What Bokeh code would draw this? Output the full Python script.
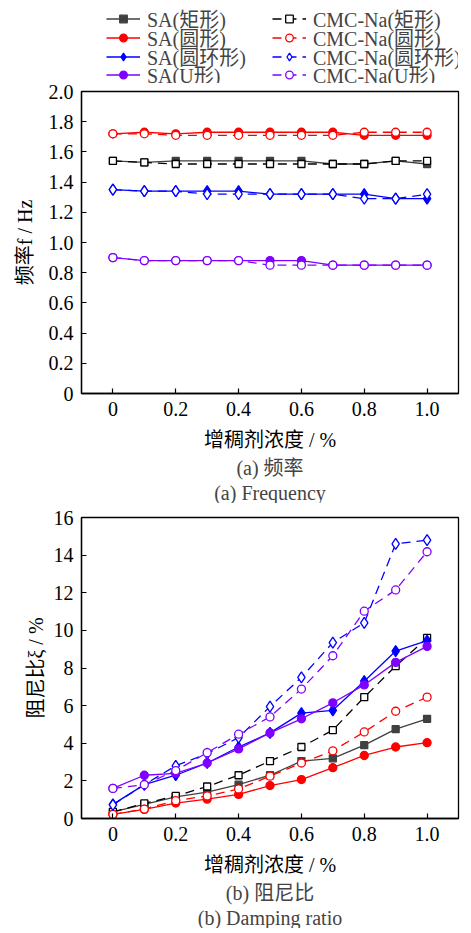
from bokeh.plotting import figure
from bokeh.layouts import column
from bokeh.models import Legend, LegendItem, FixedTicker, Title
from bokeh.embed import file_html
from bokeh.resources import INLINE

# ---------------- data ----------------
conc = [0.0, 0.1, 0.2, 0.3, 0.4, 0.5, 0.6, 0.7, 0.8, 0.9, 1.0]

# (a) frequency, Hz
freq_sa_rect = [1.54, 1.53, 1.54, 1.54, 1.54, 1.54, 1.54, 1.52, 1.52, 1.54, 1.52]
freq_cmc_rect = [1.54, 1.53, 1.52, 1.52, 1.52, 1.52, 1.52, 1.52, 1.52, 1.54, 1.54]
freq_sa_circ = [1.72, 1.73, 1.72, 1.73, 1.73, 1.73, 1.73, 1.73, 1.71, 1.71, 1.71]
freq_cmc_circ = [1.72, 1.72, 1.71, 1.71, 1.71, 1.71, 1.71, 1.71, 1.73, 1.73, 1.73]
freq_sa_ring = [1.35, 1.34, 1.34, 1.34, 1.34, 1.32, 1.32, 1.32, 1.32, 1.29, 1.29]
freq_cmc_ring = [1.35, 1.34, 1.34, 1.32, 1.32, 1.32, 1.32, 1.32, 1.29, 1.29, 1.32]
freq_sa_u = [0.90, 0.88, 0.88, 0.88, 0.88, 0.88, 0.88, 0.85, 0.85, 0.85, 0.85]
freq_cmc_u = [0.90, 0.88, 0.88, 0.88, 0.88, 0.85, 0.85, 0.85, 0.85, 0.85, 0.85]

# (b) damping ratio, %
damp_sa_rect = [0.35, 0.75, 1.15, 1.40, 1.80, 2.30, 3.05, 3.20, 3.90, 4.75, 5.30]
damp_cmc_rect = [0.35, 0.80, 1.20, 1.70, 2.30, 3.05, 3.80, 4.70, 6.45, 8.10, 9.60]
damp_sa_circ = [0.22, 0.48, 0.82, 1.03, 1.28, 1.75, 2.07, 2.70, 3.35, 3.80, 4.03]
damp_cmc_circ = [0.22, 0.50, 0.95, 1.20, 1.57, 2.25, 2.95, 3.60, 4.60, 5.70, 6.45]
damp_sa_ring = [0.75, 1.80, 2.30, 2.95, 3.80, 4.55, 5.60, 5.75, 7.30, 8.90, 9.45]
damp_cmc_ring = [0.72, 1.80, 2.80, 3.45, 4.30, 5.95, 7.50, 9.35, 10.40, 14.60, 14.80]
damp_sa_u = [1.60, 2.30, 2.40, 2.95, 3.70, 4.55, 5.30, 6.15, 7.10, 8.30, 9.15]
damp_cmc_u = [1.60, 1.80, 2.55, 3.50, 4.48, 5.40, 6.88, 8.65, 11.02, 12.15, 14.18]

labels = ["SA(矩形)", "CMC-Na(矩形)", "SA(圆形)", "CMC-Na(圆形)",
          "SA(圆环形)", "CMC-Na(圆环形)", "SA(U形)", "CMC-Na(U形)"]
x_ticks = [0, 0.2, 0.4, 0.6, 0.8, 1.0]
freq_ticks = [0, 0.2, 0.4, 0.6, 0.8, 1.0, 1.2, 1.4, 1.6, 1.8, 2.0]
damp_ticks = [0, 2, 4, 6, 8, 10, 12, 14, 16]

FONT = "Liberation Serif, Noto Sans CJK SC"
FS = "20px"

# style per series: (color, marker, size, filled, dashed)
styles = [
    ("#404040", "square", 7, True, False),
    ("#000000", "square", 7, False, True),
    ("#ff0000", "circle", 8, True, False),
    ("#ff0000", "circle", 8, False, True),
    ("#0000ff", "diamond", 11, True, False),
    ("#0000ff", "diamond", 11, False, True),
    ("#8000ff", "circle", 8, True, False),
    ("#8000ff", "circle", 8, False, True),
]


def style_axes(p, xlabel, ylabel, yticks, yover, ylab_standoff):
    p.outline_line_color = "black"
    p.outline_line_width = 1.3
    p.xgrid.visible = False
    p.ygrid.visible = False
    for ax in (p.xaxis[0], p.yaxis[0]):
        ax.axis_line_color = "black"
        ax.axis_line_width = 1.3
        ax.major_tick_in = 5
        ax.major_tick_out = 0
        ax.major_tick_line_width = 1.2
        ax.minor_tick_line_color = None
        ax.major_label_text_font = FONT
        ax.major_label_text_font_size = FS
        ax.major_label_text_color = "black"
        ax.axis_label_text_font = FONT
        ax.axis_label_text_font_size = FS
        ax.axis_label_text_font_style = "normal"
        ax.axis_label_text_color = "black"
    p.xaxis[0].ticker = FixedTicker(ticks=x_ticks)
    p.xaxis[0].major_label_overrides = {0: "0", 1: "1.0"}
    p.xaxis[0].axis_label = xlabel
    p.xaxis[0].major_label_standoff = 8
    p.xaxis[0].axis_label_standoff = 10
    p.yaxis[0].ticker = FixedTicker(ticks=yticks)
    p.yaxis[0].major_label_overrides = yover
    p.yaxis[0].axis_label = ylabel
    p.yaxis[0].major_label_standoff = 8
    p.yaxis[0].axis_label_standoff = ylab_standoff


def draw(p, series, visible=True):
    rends = []
    for ys, (col, mk, sz, filled, dashed) in zip(series, styles):
        ln = p.line(conc, ys, line_color=col, line_width=1.3,
                    line_dash="9 6" if dashed else "solid", visible=visible)
        sc = p.scatter(conc, ys, marker=mk, size=sz, line_color=col, line_width=1.3,
                       fill_color=col if filled else "white", visible=visible)
        rends.append([ln, sc])
    return rends


def captions(p, texts):
    for i, txt in enumerate(texts):
        p.add_layout(Title(text=txt, align="center", text_font=FONT, text_font_size=FS,
                           text_font_style="normal", standoff=2 if i == 0 else 0), "below")


freq_series = [freq_sa_rect, freq_cmc_rect, freq_sa_circ, freq_cmc_circ,
               freq_sa_ring, freq_cmc_ring, freq_sa_u, freq_cmc_u]

# ---------------- legend strip (same series, legend only) ----------------
p0 = figure(width=466, height=83, x_axis_type=None, y_axis_type=None,
            output_backend="svg", toolbar_location=None,
            min_border_left=81, min_border_right=8, min_border_top=0, min_border_bottom=0)
p0.outline_line_color = None
p0.xgrid.visible = False
p0.ygrid.visible = False
r0 = draw(p0, freq_series, visible=False)

# one horizontal legend per row: (SA series, CMC-Na series)
row_offsets = [50, 31, 12, -6]
for row, vy in enumerate(row_offsets):
    pair = [2 * row, 2 * row + 1]
    leg = Legend(items=[LegendItem(label=labels[i], renderers=r0[i]) for i in pair],
                 orientation="horizontal", location=(25, vy), click_policy="none",
                 label_text_font=FONT, label_text_font_size=FS,
                 glyph_width=34, glyph_height=19, label_height=19, label_standoff=7,
                 label_width=125, spacing=0, padding=0, margin=0,
                 inactive_fill_alpha=0,
                 background_fill_alpha=0, border_line_alpha=0)
    p0.add_layout(leg)

# ---------------- (a) frequency ----------------
p1 = figure(width=466, height=420, x_range=(-0.1, 1.1), y_range=(0, 2.0),
            output_backend="svg", toolbar_location=None,
            min_border_left=81, min_border_right=8, min_border_top=8, min_border_bottom=0)
draw(p1, freq_series)
style_axes(p1, "增稠剂浓度 / %", "频率f / Hz", freq_ticks,
           {0: "0", 1: "1.0", 2: "2.0"}, 10)
captions(p1, ["(a) 频率", "(a) Frequency"])

# ---------------- (b) damping ratio ----------------
p2 = figure(width=466, height=425, x_range=(-0.1, 1.1), y_range=(0, 16),
            output_backend="svg", toolbar_location=None,
            min_border_left=81, min_border_right=8, min_border_top=14, min_border_bottom=0)
draw(p2, [damp_sa_rect, damp_cmc_rect, damp_sa_circ, damp_cmc_circ,
          damp_sa_ring, damp_cmc_ring, damp_sa_u, damp_cmc_u])
style_axes(p2, "增稠剂浓度 / %", "阻尼比ξ / %", damp_ticks, {0: "0"}, 4)
captions(p2, ["(b) 阻尼比", "(b) Damping ratio"])

layout = column(p0, p1, p2, spacing=0)
open("out.html", "w").write(file_html(layout, INLINE))
